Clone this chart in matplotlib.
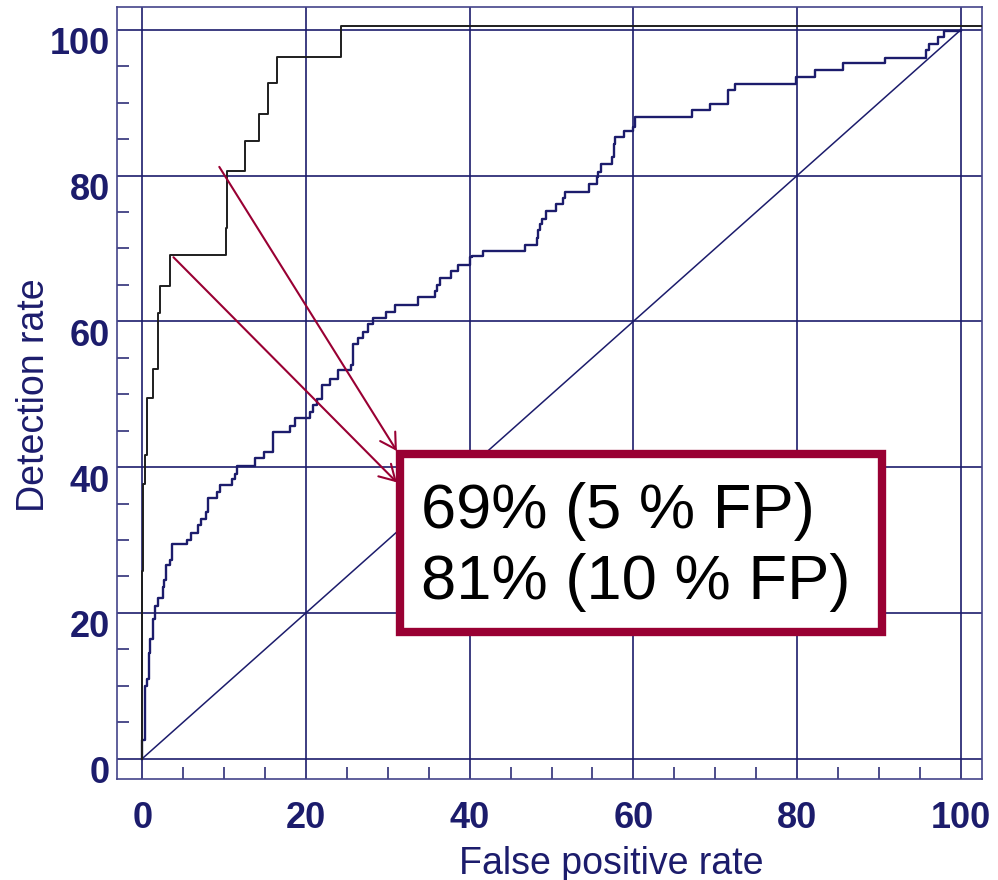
import matplotlib
matplotlib.use("Agg")
import matplotlib.pyplot as plt
from matplotlib import transforms
from matplotlib.patches import Rectangle

plt.rcParams['font.family'] = ['Liberation Sans', 'DejaVu Sans']

NAVY = '#1c1c6c'
CRIMSON = '#990033'

# strong detector (black step curve): x where the step happens, level after it
fp_strong = [0, 0, 0.08, 0.33, 0.57, 1.26, 1.9, 2.1, 3.4, 10.26, 10.4, 12.6,
             14.2, 15.4, 16.4, 24.3, 102.6]
det_strong = [0, 25.8, 37.7, 41.6, 49.5, 53.4, 61.2, 64.9, 69.1, 72.8, 80.6,
              84.8, 88.5, 92.7, 96.3, 100.6, 100.6]

# weaker detector (navy step curve)
fp_weak = [0, 0, 0.37, 0.57, 0.77, 0.98, 1.26, 1.5, 1.92, 2.48, 2.69, 2.93,
           3.33, 3.63, 5.46, 5.95, 6.75, 7.17, 7.81, 8.02, 9.12, 9.52, 10.95,
           11.36, 11.56, 13.8, 14.9, 15.96, 18.07, 18.68, 20.5, 20.8, 21.3,
           22.0, 22.95, 23.9, 25.5, 25.7, 26.4, 27.0, 27.6, 28.2, 29.8, 30.9,
           33.7, 35.8, 36.0, 36.4, 37.7, 38.6, 40.0, 40.3, 41.6, 46.8, 48.2,
           48.4, 48.6, 48.8, 49.3, 50.5, 51.4, 51.6, 54.6, 55.5, 55.7, 56.1,
           57.4, 57.6, 57.8, 58.9, 60.0, 60.2, 67.2, 69.4, 71.5, 72.4, 79.9,
           82.2, 85.6, 90.7, 95.8, 96.1, 97.2, 98.0, 100.0]
det_weak = [0, 2.5, 10.0, 10.9, 14.5, 16.4, 19.2, 21.0, 22.0, 23.6, 24.5, 26.5,
            27.3, 29.4, 30.0, 31.0, 32.1, 32.9, 33.8, 35.7, 36.6, 37.6, 38.4,
            39.1, 40.1, 41.2, 42.1, 44.8, 45.7, 46.7, 47.6, 48.5, 49.4, 51.2,
            52.1, 53.3, 54.0, 56.9, 57.7, 58.6, 59.7, 60.4, 61.3, 62.2, 63.3,
            64.1, 65.0, 66.0, 66.9, 67.8, 68.8, 69.0, 69.7, 70.5, 71.4, 72.5,
            73.4, 74.1, 75.2, 76.1, 76.9, 77.8, 78.8, 79.8, 80.5, 81.6, 82.5,
            84.4, 85.3, 86.1, 86.7, 88.0, 89.0, 89.8, 91.7, 92.6, 93.5, 94.5,
            95.4, 96.2, 97.3, 98.1, 99.0, 99.9, 100.0]

chance = [0, 100]

major_ticks = [0, 20, 40, 60, 80, 100]
minor_ticks = list(range(0, 101, 5))

box_lines = ['69% (5 % FP)', '81% (10 % FP)']
# arrows: (start, tip) in data units
arrows = [((9.4, 81.2), (31.1, 42.2)),
          ((3.8, 68.8), (31.1, 37.9))]

fig = plt.figure(figsize=(9.98, 8.8), dpi=100)
ax = fig.add_axes([0.1169, 0.1151, 0.8671, 0.8766])
ax.set_xlim(-3.14, 102.6)
ax.set_ylim(-2.77, 103.1)

ax.set_xticks(major_ticks)
ax.set_yticks(major_ticks)
ax.set_xticks(minor_ticks, minor=True)
ax.set_yticks(minor_ticks, minor=True)
ax.grid(True, which='major', color=NAVY, lw=1.2)
ax.set_axisbelow(True)
ax.tick_params(which='major', length=0, labelsize=26, labelcolor=NAVY)
ax.tick_params(axis='x', which='major', pad=16)
ax.tick_params(axis='y', which='major', pad=5)
ax.tick_params(which='minor', direction='in', length=8.6, width=1.1, color=NAVY)
for lab in ax.get_xticklabels() + ax.get_yticklabels():
    lab.set_fontweight('bold')
off = transforms.ScaledTranslation(0, -0.11, fig.dpi_scale_trans)
for lab in ax.get_yticklabels():
    lab.set_transform(lab.get_transform() + off)
for s in ax.spines.values():
    s.set_color('#44448a')
    s.set_linewidth(1.2)

ax.plot(chance, chance, color=NAVY, lw=1.1, zorder=2)
ax.plot(fp_weak, det_weak, color=NAVY, lw=1.7, drawstyle='steps-post', zorder=3)
ax.plot(fp_strong, det_strong, color='#1e1e1e', lw=1.4, drawstyle='steps-post', zorder=3)

box = Rectangle((31.5, 17.3), 58.85, 24.5, facecolor='white', edgecolor=CRIMSON,
                lw=6, zorder=5)
ax.add_patch(box)
ax.text(34.1, 31.7, box_lines[0], fontsize=45.5, color='black', va='baseline', zorder=6)
ax.text(34.1, 21.9, box_lines[1], fontsize=45.5, color='black', va='baseline', zorder=6)

for start, tip in arrows:
    ax.annotate('', xy=tip, xytext=start,
                arrowprops=dict(arrowstyle='->,head_length=0.55,head_width=0.32',
                                color=CRIMSON, lw=1.5, shrinkA=0, shrinkB=0,
                                mutation_scale=20),
                zorder=7)

ax.text(0.572, -0.11, 'False positive rate', transform=ax.transAxes, fontsize=27,
        color=NAVY, ha='center', va='center')
ax.text(-0.096, 0.497, 'Detection rate', transform=ax.transAxes, fontsize=27,
        color=NAVY, ha='center', va='center', rotation=90)

fig.savefig('out.png', dpi=100)
